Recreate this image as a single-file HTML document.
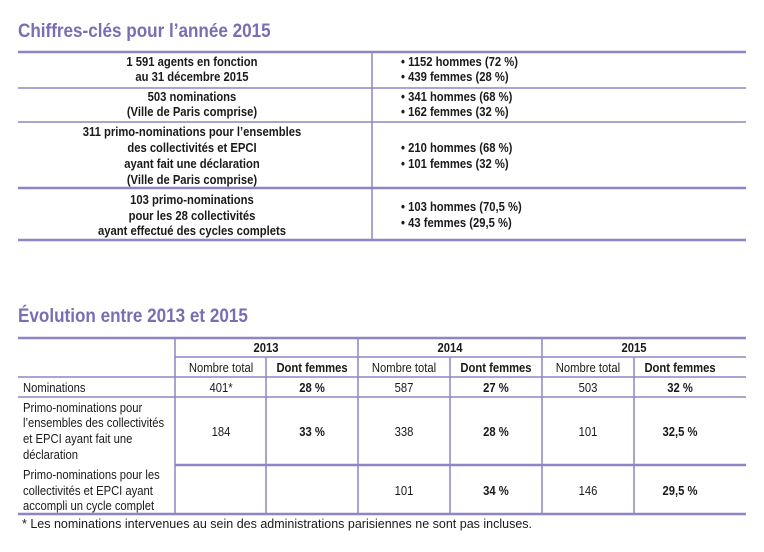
<!DOCTYPE html>
<html><head><meta charset="utf-8"><style>
html,body{margin:0;padding:0;background:#fff;}
svg{display:block}
text{font-family:"Liberation Sans Narrow","Liberation Sans",sans-serif;font-size:12.5px;fill:#1a1a1a}
.b{font-weight:bold}
.t{font-size:19px;font-weight:bold;fill:#7a6db4}
.m{text-anchor:middle}
.f{font-family:"Liberation Sans",sans-serif;font-size:12.5px}
</style></head><body>
<svg width="764" height="552" xmlns="http://www.w3.org/2000/svg">
<g stroke="#8d86c4" fill="none">
<line x1="18" y1="52" x2="746" y2="52" stroke-width="2.5"/>
<line x1="18" y1="88" x2="746" y2="88" stroke-width="1.5"/>
<line x1="18" y1="122" x2="746" y2="122" stroke-width="1.5"/>
<line x1="18" y1="188" x2="746" y2="188" stroke-width="2.5"/>
<line x1="18" y1="240" x2="746" y2="240" stroke-width="2.5"/>
<line x1="372" y1="52" x2="372" y2="240" stroke-width="1.5"/>
<line x1="18" y1="338" x2="746" y2="338" stroke-width="2.5"/>
<line x1="175" y1="357" x2="746" y2="357" stroke-width="1.5"/>
<line x1="18" y1="377" x2="746" y2="377" stroke-width="1.5"/>
<line x1="18" y1="397" x2="746" y2="397" stroke-width="1.5"/>
<line x1="175" y1="465" x2="746" y2="465" stroke-width="2.5"/>
<line x1="18" y1="514" x2="746" y2="514" stroke-width="2.5"/>
<line x1="175" y1="338" x2="175" y2="514" stroke-width="1.5"/>
<line x1="266" y1="357" x2="266" y2="514" stroke-width="1.5"/>
<line x1="358" y1="338" x2="358" y2="514" stroke-width="1.5"/>
<line x1="450" y1="357" x2="450" y2="514" stroke-width="1.5"/>
<line x1="542" y1="338" x2="542" y2="514" stroke-width="1.5"/>
<line x1="634" y1="357" x2="634" y2="514" stroke-width="1.5"/>
</g>
<g transform="scale(0.9,1)">
<text class="t" x="20" y="37">Chiffres-clés pour l’année 2015</text>
<text class="m b" x="213.3" y="66">1 591 agents en fonction</text>
<text class="m b" x="213.3" y="81">au 31 décembre 2015</text>
<text class="m b" x="213.3" y="101">503 nominations</text>
<text class="m b" x="213.3" y="116">(Ville de Paris comprise)</text>
<text class="m b" x="213.3" y="136">311 primo-nominations pour l’ensembles</text>
<text class="m b" x="213.3" y="152">des collectivités et EPCI</text>
<text class="m b" x="213.3" y="168">ayant fait une déclaration</text>
<text class="m b" x="213.3" y="184">(Ville de Paris comprise)</text>
<text class="m b" x="213.3" y="204">103 primo-nominations</text>
<text class="m b" x="213.3" y="220">pour les 28 collectivités</text>
<text class="m b" x="213.3" y="235">ayant effectué des cycles complets</text>
<text class="b" x="445.6" y="66">• 1152 hommes (72 %)</text>
<text class="b" x="445.6" y="81">• 439 femmes (28 %)</text>
<text class="b" x="445.6" y="101">• 341 hommes (68 %)</text>
<text class="b" x="445.6" y="116">• 162 femmes (32 %)</text>
<text class="b" x="445.6" y="152">• 210 hommes (68 %)</text>
<text class="b" x="445.6" y="168">• 101 femmes (32 %)</text>
<text class="b" x="445.6" y="211">• 103 hommes (70,5 %)</text>
<text class="b" x="445.6" y="227">• 43 femmes (29,5 %)</text>
<text class="t" x="20" y="322">Évolution entre 2013 et 2015</text>
<text class="m b" x="295.6" y="352">2013</text>
<text class="m b" x="500" y="352">2014</text>
<text class="m b" x="704.4" y="352">2015</text>
<text class="m" x="245.6" y="372">Nombre total</text>
<text class="m b" x="346.7" y="372">Dont femmes</text>
<text class="m" x="448.9" y="372">Nombre total</text>
<text class="m b" x="551.1" y="372">Dont femmes</text>
<text class="m" x="653.3" y="372">Nombre total</text>
<text class="m b" x="755.6" y="372">Dont femmes</text>
<text x="25.6" y="392">Nominations</text>
<text class="m" x="245.6" y="392">401*</text>
<text class="m b" x="346.7" y="392">28 %</text>
<text class="m" x="448.9" y="392">587</text>
<text class="m b" x="551.1" y="392">27 %</text>
<text class="m" x="653.3" y="392">503</text>
<text class="m b" x="755.6" y="392">32 %</text>
<text x="25.6" y="412">Primo-nominations pour</text>
<text x="25.6" y="427">l’ensembles des collectivités</text>
<text x="25.6" y="443">et EPCI ayant fait une</text>
<text x="25.6" y="459">déclaration</text>
<text class="m" x="245.6" y="436">184</text>
<text class="m b" x="346.7" y="436">33 %</text>
<text class="m" x="448.9" y="436">338</text>
<text class="m b" x="551.1" y="436">28 %</text>
<text class="m" x="653.3" y="436">101</text>
<text class="m b" x="755.6" y="436">32,5 %</text>
<text x="25.6" y="479">Primo-nominations pour les</text>
<text x="25.6" y="495">collectivités et EPCI ayant</text>
<text x="25.6" y="510">accompli un cycle complet</text>
<text class="m" x="448.9" y="495">101</text>
<text class="m b" x="551.1" y="495">34 %</text>
<text class="m" x="653.3" y="495">146</text>
<text class="m b" x="755.6" y="495">29,5 %</text>
</g>
<text class="f" x="22" y="528">* Les nominations intervenues au sein des administrations parisiennes ne sont pas incluses.</text>
</svg>
</body></html>
